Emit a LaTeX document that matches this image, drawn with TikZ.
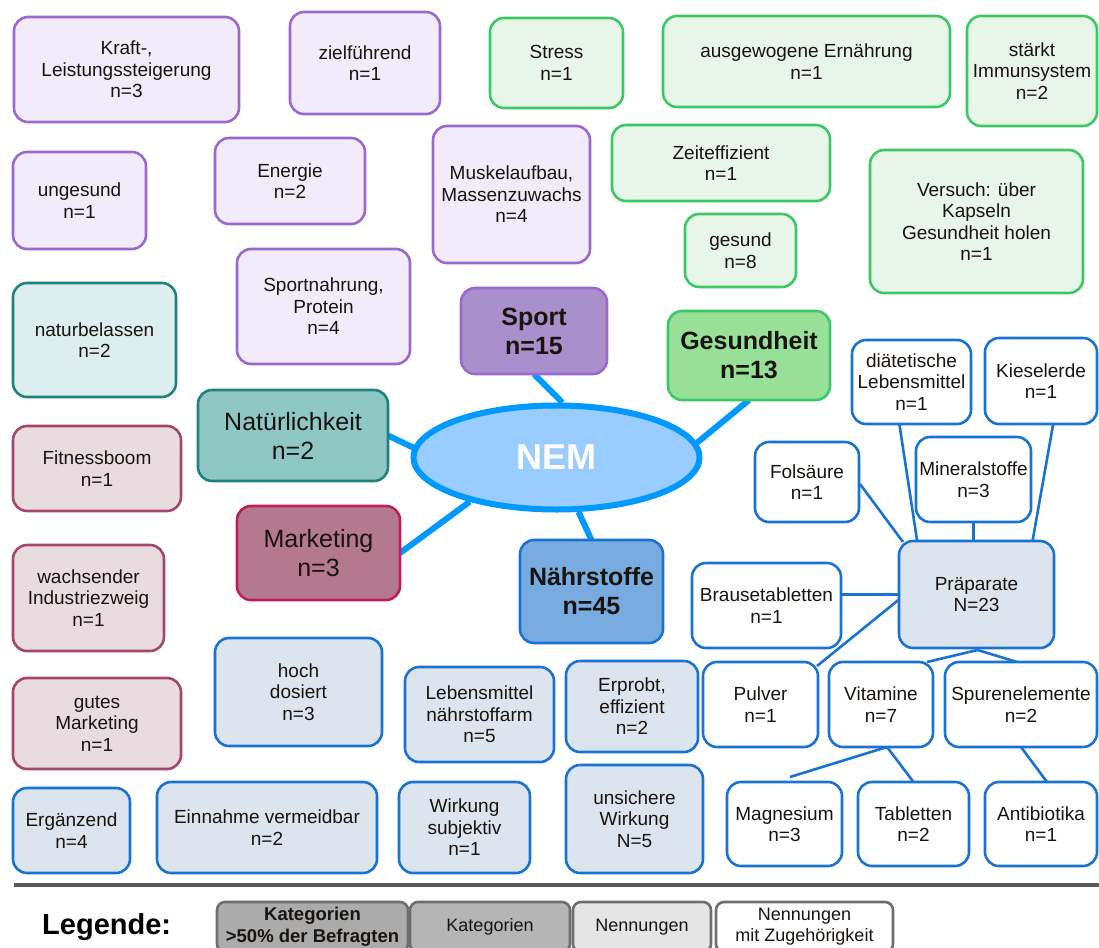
\documentclass[tikz,border=0pt]{standalone}
\usepackage{fontspec}
\setmainfont{Liberation Sans}
\usetikzlibrary{shapes.geometric,calc}

% palette
\definecolor{nemline}{RGB}{0,153,255}
\definecolor{nemfill}{RGB}{153,204,255}
\definecolor{sportline}{RGB}{155,105,205}
\definecolor{sportlight}{RGB}{242,235,250}
\definecolor{sportcatfill}{RGB}{169,143,204}
\definecolor{greenline}{RGB}{60,200,100}
\definecolor{greenlight}{RGB}{232,245,233}
\definecolor{greencatfill}{RGB}{152,224,152}
\definecolor{tealline}{RGB}{30,130,125}
\definecolor{teallight}{RGB}{220,238,238}
\definecolor{tealcatfill}{RGB}{143,199,197}
\definecolor{marline}{RGB}{165,70,110}
\definecolor{marcatline}{RGB}{190,30,90}
\definecolor{marlight}{RGB}{232,220,224}
\definecolor{marcatfill}{RGB}{180,120,143}
\definecolor{blueline}{RGB}{25,115,210}
\definecolor{bluelight}{RGB}{220,228,238}
\definecolor{bluecatfill}{RGB}{120,172,224}
\definecolor{legline}{RGB}{110,110,110}
\definecolor{txt}{RGB}{25,20,15}

\pgfdeclarelayer{under}
\pgfsetlayers{under,main}

\tikzset{
  base/.style={rectangle, rounded corners=14pt, line width=2.6pt, inner sep=0pt,
    outer sep=0pt, align=center, text=txt, font=\fontsize{19}{21.5}\selectfont},
  sleaf/.style={base, draw=sportline, fill=sportlight},
  scat/.style={base, draw=sportline, fill=sportcatfill, font=\bfseries\fontsize{25}{29}\selectfont},
  gleaf/.style={base, draw=greenline, fill=greenlight},
  gcat/.style={base, draw=greenline, fill=greencatfill, font=\bfseries\fontsize{25}{29}\selectfont},
  tleaf/.style={base, draw=tealline, fill=teallight},
  tcat/.style={base, draw=tealline, fill=tealcatfill, font=\fontsize{25}{29}\selectfont},
  mleaf/.style={base, draw=marline, fill=marlight},
  mcat/.style={base, draw=marcatline, fill=marcatfill, font=\fontsize{25}{29}\selectfont},
  bleaf/.style={base, draw=blueline, fill=bluelight},
  bcat/.style={base, draw=blueline, fill=bluecatfill, font=\bfseries\fontsize{25}{29}\selectfont},
  wleaf/.style={base, draw=blueline, fill=white},
  legbox/.style={base, rounded corners=8pt, draw=legline, font=\fontsize{18}{21}\selectfont},
  trunk/.style={draw=nemline, line width=6pt},
  twig/.style={draw=blueline, line width=2.6pt},
}

% box from its corners: name, style, x1, y1, x2, y2, text
\newcommand\mybox[7]{%
  \node[#2, minimum width={#5-#3}, minimum height={#6-#4}] (#1)
    at ({(#3+#5)/2},{(#4+#6)/2}) {#7};}

\begin{document}
\begin{tikzpicture}[x=1pt,y=-1pt]
\useasboundingbox (0,0) rectangle (1099,947);
\clip (0,0) rectangle (1099,947);
\begin{pgfonlayer}{under}
  \fill[white] (0,0) rectangle (1099,947);
\end{pgfonlayer}

% central ellipse
\node[ellipse, draw=nemline, fill=nemfill, line width=6pt, inner sep=0pt,
  minimum width=286, minimum height=104, text=white,
  font=\bfseries\fontsize{36}{40}\selectfont] (nem) at (556.5,457.5) {NEM};

% Sport
\mybox{kraft}{sleaf}{14}{17}{239}{122}{Kraft-,\\Leistungssteigerung\\n=3}
\mybox{ziel}{sleaf}{290}{12}{440}{114}{zielführend\\n=1}
\mybox{unges}{sleaf}{13}{152}{146}{249}{ungesund\\n=1}
\mybox{energ}{sleaf}{215}{138}{365}{224}{Energie\\n=2}
\mybox{muskel}{sleaf}{433}{126}{590}{263}{Muskelaufbau,\\Massenzuwachs\\n=4}
\mybox{sportn}{sleaf}{237}{249}{410}{364}{Sportnahrung,\\Protein\\n=4}
\mybox{sport}{scat}{461}{288}{607}{374}{Sport\\n=15}

% Gesundheit
\mybox{stress}{gleaf}{490}{18}{623}{108}{Stress\\n=1}
\mybox{ausgew}{gleaf}{663}{16}{950}{107}{ausgewogene Ernährung\\n=1}
\mybox{immun}{gleaf}{967}{16}{1097}{126}{stärkt\\Immunsystem\\n=2}
\mybox{zeit}{gleaf}{612}{125}{830}{201}{Zeiteffizient\\n=1}
\mybox{gesund}{gleaf}{685}{214}{796}{287}{gesund\\n=8}
\mybox{versuch}{gleaf}{870}{150}{1083}{293}{Versuch: über\\Kapseln\\Gesundheit holen\\n=1}
\mybox{gesundh}{gcat}{668}{311}{830}{400}{Gesundheit\\n=13}

% Natürlichkeit
\mybox{naturb}{tleaf}{13}{283}{176}{397}{naturbelassen\\n=2}
\mybox{natur}{tcat}{198}{390}{388}{481}{Natürlichkeit\\n=2}

% Marketing
\mybox{fitness}{mleaf}{13}{426}{181}{511}{Fitnessboom\\n=1}
\mybox{industrie}{mleaf}{13}{545}{164}{651}{wachsender\\Industriezweig\\n=1}
\mybox{gutesm}{mleaf}{13}{678}{181}{769}{gutes\\Marketing\\n=1}
\mybox{marketing}{mcat}{237}{506}{400}{600}{Marketing\\n=3}

% Nährstoffe
\mybox{hoch}{bleaf}{215}{638}{382}{746}{hoch\\dosiert\\n=3}
\mybox{lebensm}{bleaf}{405}{667}{554}{762}{Lebensmittel\\nährstoffarm\\n=5}
\mybox{erprobt}{bleaf}{566}{661}{698}{752}{Erprobt,\\effizient\\n=2}
\mybox{ergaenz}{bleaf}{13}{788}{130}{873}{Ergänzend\\n=4}
\mybox{einnahme}{bleaf}{157}{782}{377}{873}{Einnahme vermeidbar\\n=2}
\mybox{wirkung}{bleaf}{399}{782}{530}{873}{Wirkung\\subjektiv\\n=1}
\mybox{unsicher}{bleaf}{566}{765}{703}{873}{unsichere\\Wirkung\\N=5}
\mybox{naehr}{bcat}{520}{540}{663}{643}{Nährstoffe\\n=45}

% Präparate and its sub-mentions
\mybox{prae}{bleaf}{899}{541}{1054}{648}{Präparate\\N=23}
\mybox{diet}{wleaf}{852}{340}{971}{424}{diätetische\\Lebensmittel\\n=1}
\mybox{kiesel}{wleaf}{985}{338}{1097}{424}{Kieselerde\\n=1}
\mybox{fols}{wleaf}{755}{442}{859}{522}{Folsäure\\n=1}
\mybox{mineral}{wleaf}{916}{437}{1031}{522}{Mineralstoffe\\n=3}
\mybox{brause}{wleaf}{692}{563}{841}{648}{Brausetabletten\\n=1}
\mybox{pulver}{wleaf}{703}{662}{818}{747}{Pulver\\n=1}
\mybox{vit}{wleaf}{829}{662}{933}{747}{Vitamine\\n=7}
\mybox{spur}{wleaf}{945}{662}{1097}{747}{Spurenelemente\\n=2}
\mybox{mag}{wleaf}{727}{782}{842}{866}{Magnesium\\n=3}
\mybox{tab}{wleaf}{858}{782}{969}{866}{Tabletten\\n=2}
\mybox{anti}{wleaf}{985}{782}{1097}{866}{Antibiotika\\n=1}
\coordinate (magend) at (790,777);

% connectors, kept underneath the boxes
\begin{pgfonlayer}{under}
  \path[trunk] (sport.south) -- (nem.84);
  \path[trunk] (gesundh.south) -- (nem.6);
  \path[trunk] (natur.east) -- (nem.176);
  \path[trunk] (marketing.east) -- (nem.207);
  \path[trunk] (naehr.north) -- (nem.292);

  \path[twig] ($(fols.east)+(1,2)$) -- ($(prae.north west)+(4,1)$);
  \path[twig] ($(diet.south)+(-12,1)$) -- ($(prae.north west)+(18,-1)$);
  \path[twig] (mineral.south) -- (mineral.south |- prae.north);
  \path[twig] ($(kiesel.south)+(12,1)$) -- ($(prae.north east)+(-22,3)$);
  \path[twig] (brause.east |- prae.west) -- (prae.west);
  \path[twig] ($(pulver.north east)+(-1,4)$) -- ($(prae.west)+(0,5)$);
  \path[twig] ($(prae.south)+(1,2)$) -- ($(vit.north)+(46,0)$);
  \path[twig] ($(prae.south)+(1,2)$) -- ($(spur.north)+(-4,0)$);
  \path[twig] ($(vit.south)+(6,0)$) -- (magend);
  \path[twig] ($(vit.south)+(6,0)$) -- (tab.north);
  \path[twig] (spur.south) -- ($(anti.north)+(6,0)$);
\end{pgfonlayer}

% separator and legend
\draw[line width=4pt, draw=black!65] (14,885) -- (1099,885);
\node[anchor=west, inner sep=0pt, text=black,
  font=\bfseries\fontsize{29}{32}\selectfont] (legtitle) at (42,927) {Legende:};
\mybox{leg1}{legbox, fill=black!33, font=\bfseries\fontsize{18.5}{22}\selectfont}{217}{902}{408}{952}{Kategorien\\>50\% der Befragten}
\mybox{leg2}{legbox, fill=black!29}{410}{902}{570}{952}{Kategorien}
\mybox{leg3}{legbox, fill=black!10}{573}{902}{711}{952}{Nennungen}
\mybox{leg4}{legbox, fill=white}{716}{902}{893}{952}{Nennungen\\mit Zugehörigkeit}
\end{tikzpicture}
\end{document}
